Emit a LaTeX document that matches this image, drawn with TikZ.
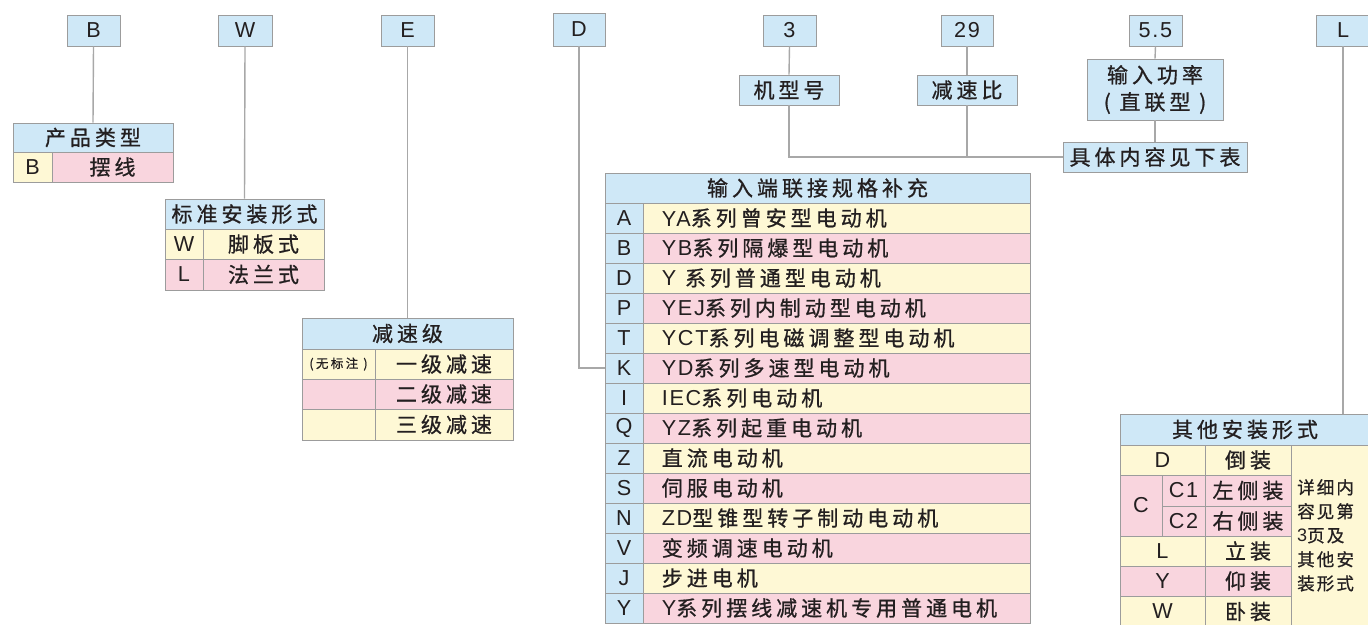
\documentclass[tikz,border=0pt]{standalone}
\usepackage{fontspec}
\newfontfamily\cjk{Noto Sans CJK SC}[LetterSpace=19,FakeBold=0.8]
\newfontfamily\cjknote{Noto Sans CJK SC}[LetterSpace=12,FakeBold=0.8]
\newfontfamily\latf{Liberation Sans}[LetterSpace=8,Scale=1.03]
\newcommand\latn[1]{{\latf #1}}
\definecolor{hblue}{HTML}{CFE8F7}
\definecolor{ryel}{HTML}{FEF8D5}
\definecolor{rpink}{HTML}{F9D5DE}
\definecolor{bord}{HTML}{9C9C9C}
\definecolor{linec}{HTML}{A8A8A8}
\definecolor{txt}{HTML}{231F20}
\tikzset{
  cellst/.style={draw=bord, line width=0.8pt, inner sep=0pt, text=txt,
    font=\cjk\fontsize{21}{24}\selectfont},
  rowtext/.style={anchor=west, inner sep=0pt, text=txt, font=\cjk\fontsize{21}{24}\selectfont},
  conn/.style={draw=linec, line width=1.4pt},
}
% [opts]{x1}{y1}{x2}{y2}{name}{fill}{text}
\newcommand\cell[8][]{\node[cellst,fill=#7,
  minimum width={((#4)-(#2))*1pt},minimum height={((#5)-(#3))*1pt},#1]
  (#6) at ({((#2)+(#4))/2},{((#3)+(#5))/2}) {#8};}
\begin{document}
\begin{tikzpicture}[x=1pt,y=-1pt]
\fill[white] (0,0) rectangle (1368,624);
\useasboundingbox (0,0) rectangle (1368,624);

% ---- top code boxes
\cell{67}{15}{120}{46}{tB}{hblue}{\latn{B}}
\cell{218}{15}{272}{46}{tW}{hblue}{\latn{W}}
\cell{381}{15}{434}{46}{tE}{hblue}{\latn{E}}
\cell{553}{13}{605}{46}{tD}{hblue}{\latn{D}}
\cell{763}{15}{816}{46}{t3}{hblue}{\latn{3}}
\cell{941}{15}{993}{46}{t29}{hblue}{\latn{29}}
\cell{1129}{15}{1182}{46}{t55}{hblue}{\latn{5.5}}
\cell{1316}{15}{1370}{46}{tL}{hblue}{\latn{L}}

% ---- B table
\cell{13}{123}{173}{152}{hB}{hblue}{产品类型}
\cell{13}{152}{52}{182}{bB}{ryel}{\latn{B}}
\cell{52}{152}{173}{182}{bBt}{rpink}{摆线}

% ---- W table
\cell{165}{199}{324}{229}{hW}{hblue}{标准安装形式}
\cell{165}{229}{203}{259}{wW}{ryel}{\latn{W}}
\cell{203}{229}{324}{259}{wWt}{ryel}{脚板式}
\cell{165}{259}{203}{290}{wL}{rpink}{\latn{L}}
\cell{203}{259}{324}{290}{wLt}{rpink}{法兰式}

% ---- E table
\cell{302}{318}{513}{349}{hE}{hblue}{减速级}
\cell{302}{349}{375}{379}{e1}{ryel}{\fontsize{12.5}{14}\selectfont (无标注 )}
\cell{375}{349}{513}{379}{e1t}{ryel}{一级减速}
\cell{302}{379}{375}{409}{e2}{rpink}{}
\cell{375}{379}{513}{409}{e2t}{rpink}{二级减速}
\cell{302}{409}{375}{440}{e3}{ryel}{}
\cell{375}{409}{513}{440}{e3t}{ryel}{三级减速}

% ---- D table
\cell{605}{173}{1030}{203}{hD}{hblue}{输入端联接规格补充}
\foreach \l/\t/\c [count=\i from 0] in {
  A/{\latn{YA}系列曾安型电动机}/ryel,
  B/{\latn{YB}系列隔爆型电动机}/rpink,
  D/{\latn{Y} 系列普通型电动机}/ryel,
  P/{\latn{YEJ}系列内制动型电动机}/rpink,
  T/{\latn{YCT}系列电磁调整型电动机}/ryel,
  K/{\latn{YD}系列多速型电动机}/rpink,
  I/{\latn{IEC}系列电动机}/ryel,
  Q/{\latn{YZ}系列起重电动机}/rpink,
  Z/{直流电动机}/ryel,
  S/{伺服电动机}/rpink,
  N/{\latn{ZD}型锥型转子制动电动机}/ryel,
  V/{变频调速电动机}/rpink,
  J/{步进电机}/ryel,
  Y/{\latn{Y}系列摆线减速机专用普通电机}/rpink}{
  \cell{605}{203+30*\i}{643}{233+30*\i}{dl\i}{hblue}{\latn{\l}}
  \cell{643}{203+30*\i}{1030}{233+30*\i}{dr\i}{\c}{}
  \node[rowtext] (dt\i) at ([xshift=19pt]dr\i.west) {\t};
}

% ---- middle boxes
\cell{739}{75}{839}{105}{jx}{hblue}{机型号}
\cell{917}{75}{1017}{105}{jsb}{hblue}{减速比}
\cell[align=center,font=\cjk\fontsize{21}{27}\selectfont]{1087}{59}{1223}{120}{pw}{hblue}{输入功率\\( 直联型 )}
\cell{1063}{142}{1247}{172}{spec}{hblue}{具体内容见下表}

% ---- other mounting table
\cell{1120}{414}{1370}{445}{hO}{hblue}{其他安装形式}
\cell{1120}{445}{1205}{475}{oD}{ryel}{\latn{D}}
\cell{1205}{445}{1291}{475}{oDt}{ryel}{倒装}
\cell{1120}{475}{1162}{536}{oC}{rpink}{\latn{C}}
\cell{1162}{475}{1205}{506}{oC1}{rpink}{\latn{C1}}
\cell{1205}{475}{1291}{506}{oC1t}{rpink}{左侧装}
\cell{1162}{506}{1205}{536}{oC2}{rpink}{\latn{C2}}
\cell{1205}{506}{1291}{536}{oC2t}{rpink}{右侧装}
\cell{1120}{536}{1205}{566}{oL}{ryel}{\latn{L}}
\cell{1205}{536}{1291}{566}{oLt}{ryel}{立装}
\cell{1120}{566}{1205}{596}{oY}{rpink}{\latn{Y}}
\cell{1205}{566}{1291}{596}{oYt}{rpink}{仰装}
\cell{1120}{596}{1205}{627}{oW}{ryel}{\latn{W}}
\cell{1205}{596}{1291}{627}{oWt}{ryel}{卧装}
\cell{1291}{445}{1370}{627}{oN}{ryel}{}
\node[anchor=north west, inner sep=0pt, align=left, text=txt,
  font=\cjknote\fontsize{17.5}{24}\selectfont] (oNt) at (1297,479)
  {详细内\\容见第\\{\latn{3}}页及\\其他安\\装形式};

% ---- connectors
\draw[conn] (tB.south) -- (hB.north);
\draw[conn] (tW.south) -- (hW.north);
\draw[conn] (tE.south) -- (hE.north);
\draw[conn] (tD.south) |- (dl5.west);
\draw[conn] (t3.south) -- (jx.north);
\draw[conn] (t29.south) -- (jsb.north);
\draw[conn] (t55.south) -- (pw.north);
\draw[conn] (jx.south) |- (spec.west);
\draw[conn] (jsb.south) -- (jsb.south |- spec.west);
\draw[conn] (pw.south) -- (spec.north);
\draw[conn] (tL.south) -- (tL.south |- hO.north);
\end{tikzpicture}
\end{document}
